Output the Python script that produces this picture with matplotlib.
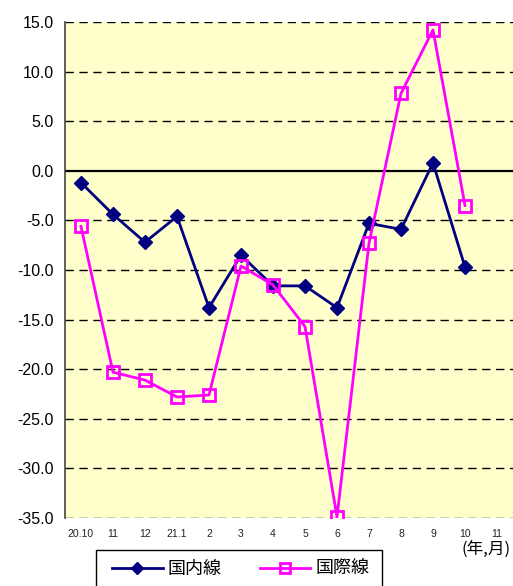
import matplotlib
matplotlib.use("Agg")
import matplotlib.pyplot as plt
from matplotlib.patches import Rectangle

plt.rcParams['font.family'] = ['Liberation Sans', 'Noto Sans CJK JP', 'DejaVu Sans']

# Data (year-on-year change, %)
months = ["20.10", "11", "12", "21.1", "2", "3", "4", "5", "6", "7", "8", "9", "10", "11"]
domestic = [-1.2, -4.4, -7.2, -4.6, -13.8, -8.5, -11.6, -11.6, -13.8, -5.3, -5.9, 0.8, -9.7]
international = [-5.6, -20.3, -21.1, -22.8, -22.6, -9.6, -11.5, -15.7, -34.9, -7.3, 7.8, 14.2, -3.5]
yticks = [15, 10, 5, 0, -5, -10, -15, -20, -25, -30, -35]

W, H = 513, 586
fig = plt.figure(figsize=(W / 100, H / 100), dpi=100)
ax = fig.add_axes([65 / W, 1 - 518 / H, 448 / W, 496 / H])
ax.set_facecolor('#FFFFCC')

# dashed gridlines and solid zero line
for y in yticks:
    if y == 0:
        ax.axhline(0, color='black', linewidth=1.6, zorder=1)
    else:
        ax.axhline(y, color='black', linewidth=1.0, linestyle=(0, (6, 4)), zorder=1)

x_dom = list(range(len(domestic)))
x_int = list(range(len(international)))
ax.plot(x_dom, domestic, color='#000080', linewidth=2, marker='D', markersize=7,
        markerfacecolor='#000080', markeredgecolor='#000080', label='国内線', zorder=3)
ax.plot(x_int, international, color='#FF00FF', linewidth=2, marker='s', markersize=8.5,
        markerfacecolor='none', markeredgecolor='#FF00FF', markeredgewidth=2,
        label='国際線', zorder=4)

ax.set_xlim(-0.5, len(months) - 0.5)
ax.set_ylim(-35, 15)
ax.set_xticks(range(len(months)))
ax.set_xticklabels(months, fontsize=7.5, color='#222222')
ax.set_yticks(yticks)
ax.set_yticklabels(['%.1f' % v for v in yticks], fontsize=11.5)
ax.tick_params(axis='both', length=0)
ax.tick_params(axis='y', pad=8)
ax.tick_params(axis='x', pad=8)

for side in ['top', 'right', 'bottom']:
    ax.spines[side].set_visible(False)
ax.spines['left'].set_color('#444444')
ax.spines['left'].set_linewidth(1.2)

fig.text(511 / W, 1 - 549 / H, '(年,月)', ha='right', va='center',
         fontsize=12, family=['Noto Sans CJK JP', 'DejaVu Sans'])

# legend frame drawn separately, legend itself without frame
fig.patches.append(Rectangle((96 / W, 1 - 600 / H), 286 / W, 50 / H,
                             transform=fig.transFigure, facecolor='white',
                             edgecolor='black', linewidth=1.0))
leg = fig.legend(loc='center left', bbox_to_anchor=(112 / W, 1 - 569 / H),
                 ncol=2, frameon=False, markerscale=0.85,
                 prop={'family': ['Noto Sans CJK JP', 'DejaVu Sans'], 'size': 13},
                 handlelength=2.8, handletextpad=0.3, columnspacing=2.1,
                 borderpad=0, borderaxespad=0)

fig.savefig('out.png', dpi=100)
